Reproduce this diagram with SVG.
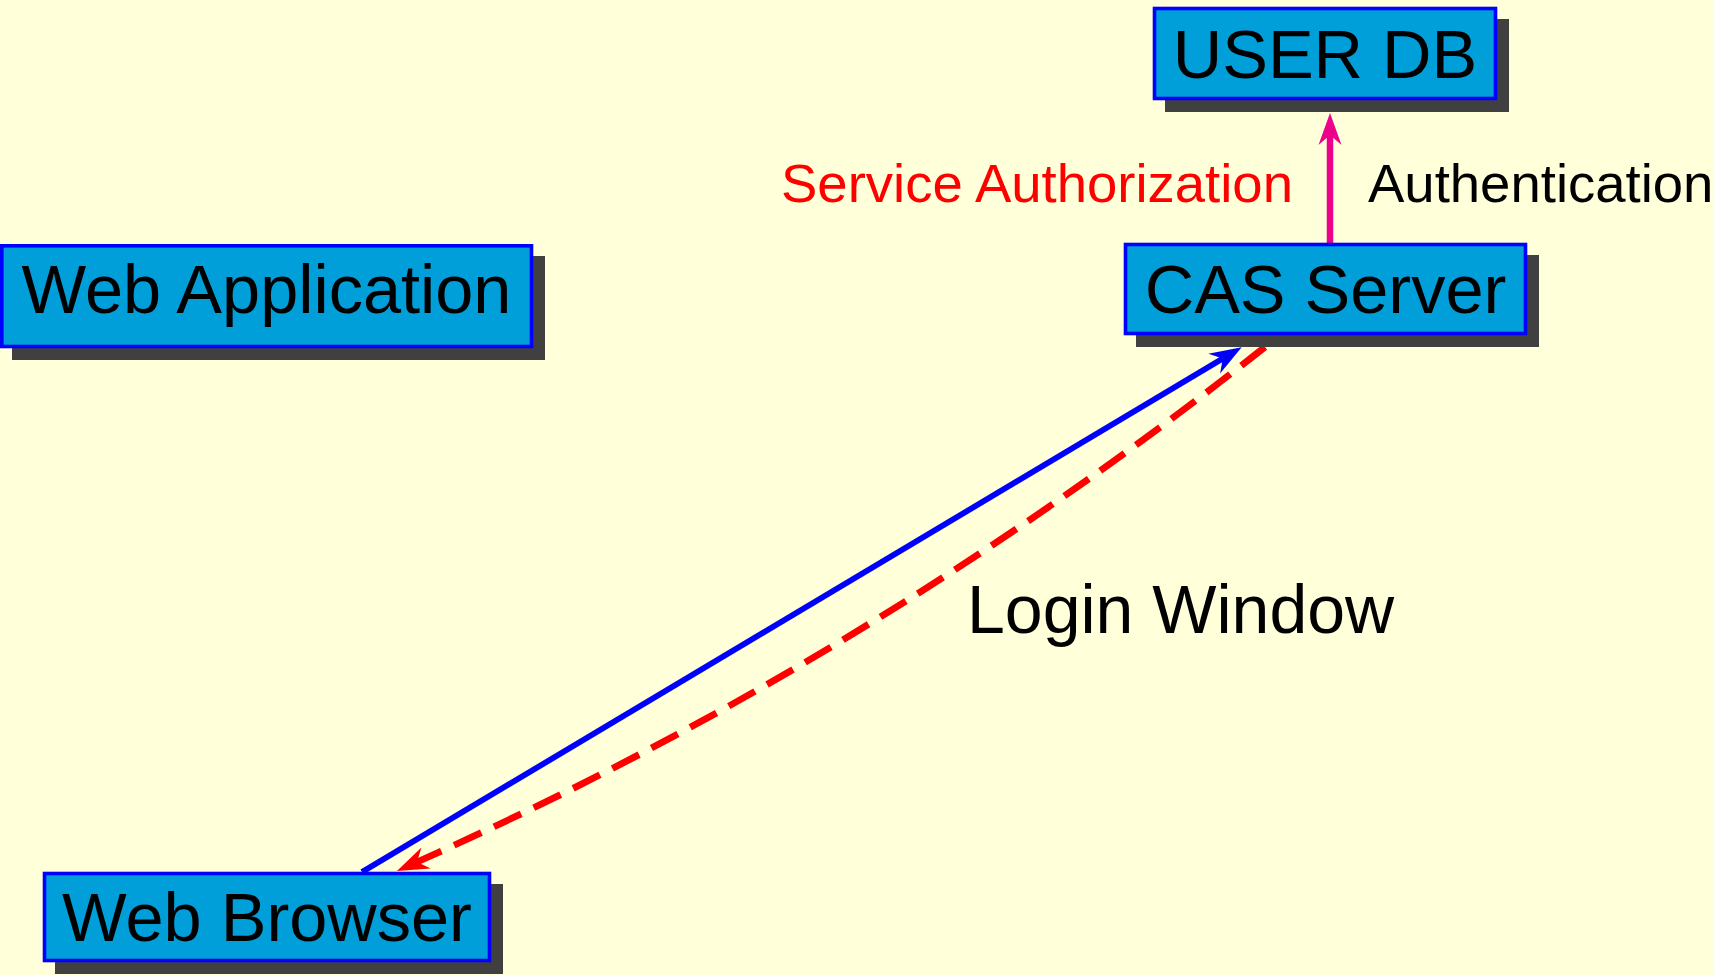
<svg xmlns="http://www.w3.org/2000/svg" width="1714" height="975" viewBox="0 0 1714 975">
<style>
.shadow{fill:#404040;stroke:none}
.box{fill:#009FDA;stroke:#0000FF;stroke-width:3.6}
.ntext{font-family:"Liberation Sans",Arial,sans-serif;font-size:68.5px;fill:#000000;text-anchor:middle}
.label{font-family:"Liberation Sans",Arial,sans-serif;font-size:54.5px}
</style>
<defs>
<marker id="hBlue" markerUnits="userSpaceOnUse" markerWidth="34" markerHeight="26" viewBox="0 -13 34 26" refX="10" refY="0" orient="auto"><path d="M0,-11.5 L32,0 L0,11.5 L10,0 Z" fill="#0000FF"/></marker>
<marker id="hRed" markerUnits="userSpaceOnUse" markerWidth="34" markerHeight="26" viewBox="0 -13 34 26" refX="10" refY="0" orient="auto"><path d="M0,-11.5 L32,0 L0,11.5 L10,0 Z" fill="#FF0000"/></marker>
<marker id="hPink" markerUnits="userSpaceOnUse" markerWidth="34" markerHeight="26" viewBox="0 -13 34 26" refX="10" refY="0" orient="auto"><path d="M0,-11.5 L32,0 L0,11.5 L10,0 Z" fill="#EC008C"/></marker>
</defs>
<rect x="0" y="0" width="1714" height="975" fill="#FFFFDA"/>
<g id="connectors">
<path d="M362,872 L1222.8,358.5" fill="none" stroke="#0000FF" stroke-width="5.8" marker-end="url(#hBlue)"/>
<path d="M1265,347 Q865,663 417,862" fill="none" stroke="#FF0000" stroke-width="6.8" stroke-dasharray="30 14" marker-end="url(#hRed)"/>
<path d="M1330,244 L1330,135" fill="none" stroke="#EC008C" stroke-width="6.5" marker-end="url(#hPink)"/>
</g>
<g id="user-db">
<rect class="shadow" x="1165" y="19" width="344" height="93"/>
<rect class="box" x="1154.5" y="8.5" width="341" height="90"/>
<text class="ntext" x="1325" y="78">USER DB</text>
</g>
<g id="cas-server">
<rect class="shadow" x="1136" y="255" width="403" height="92"/>
<rect class="box" x="1125.5" y="244.5" width="400" height="89"/>
<text class="ntext" x="1325.5" y="313">CAS Server</text>
</g>
<g id="web-application">
<rect class="shadow" x="12" y="256" width="533" height="104"/>
<rect class="box" x="1.8" y="245.8" width="529.7" height="100.7"/>
<text class="ntext" x="266.5" y="313">Web Application</text>
</g>
<g id="web-browser">
<rect class="shadow" x="55" y="884" width="448" height="90"/>
<rect class="box" x="44.5" y="873.5" width="445" height="87"/>
<text class="ntext" x="267" y="941">Web Browser</text>
</g>
<g id="labels">
<text class="label" x="1293" y="202" fill="#FF0000" text-anchor="end">Service Authorization</text>
<text class="label" x="1368" y="202" fill="#000000">Authentication</text>
<text x="967" y="633" font-family="Liberation Sans, Arial, sans-serif" font-size="68" fill="#000000">Login Window</text>
</g>
</svg>
